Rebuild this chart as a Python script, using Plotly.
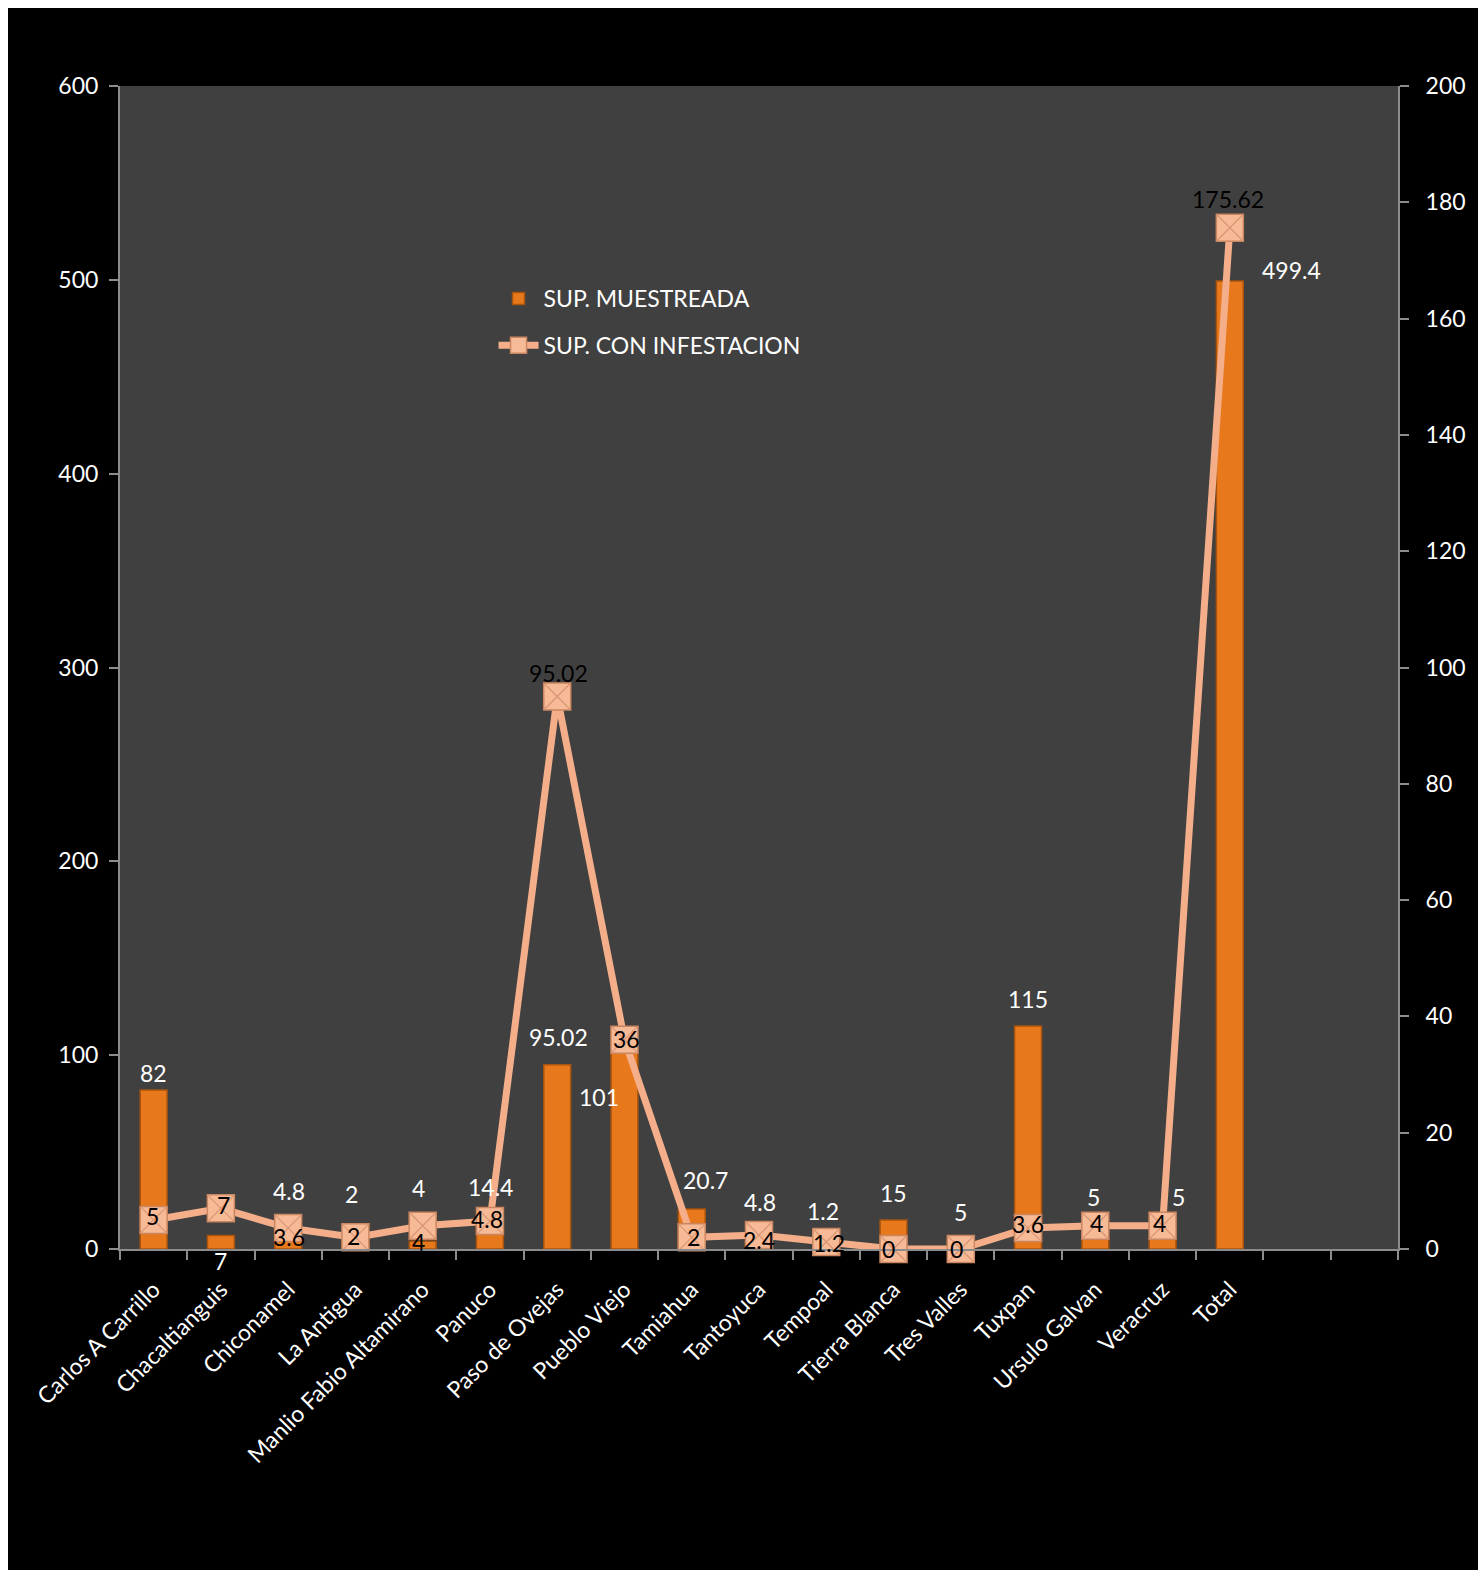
import plotly.graph_objects as go

# ---- data ----
categories = ["Carlos A Carrillo", "Chacaltianguis", "Chiconamel", "La Antigua",
              "Manlio Fabio Altamirano", "Panuco", "Paso de Ovejas", "Pueblo Viejo",
              "Tamiahua", "Tantoyuca", "Tempoal", "Tierra Blanca", "Tres Valles",
              "Tuxpan", "Ursulo Galvan", "Veracruz", "Total"]
sup_muestreada = [82, 7, 4.8, 2, 4, 14.4, 95.02, 101, 20.7, 4.8, 1.2, 15, 5, 115, 5, 5, 499.4]
sup_infestacion = [5, 7, 3.6, 2, 4, 4.8, 95.02, 36, 2, 2.4, 1.2, 0, 0, 3.6, 4, 4, 175.62]
empty_slots = [" ", "  "]  # two unused category slots at the right end
left_ticks = [0, 100, 200, 300, 400, 500, 600]
right_ticks = [0, 20, 40, 60, 80, 100, 120, 140, 160, 180, 200]

# ---- label placement (pixel offsets, style only) ----
bar_label_shift = [(0, 17), (0, -26), (1, 49), (-4, 51), (-4, 53), (1, 34), (1, 28), (-25, -44),
                   (14, 29), (1, 38), (-3, 36), (0, 27), (0, 27), (0, 27), (-2, 42), (16, 42), (62, 11)]
line_label_shift = [(-1, 4), (3, 3), (1, -9), (-2, 1), (-4, -16), (-3, 2), (1, 23), (2, 1),
                    (2, 0), (0, -5), (3, -1), (-5, 0), (-4, 0), (0, 4), (1, 3), (-3, 3), (-2, 29)]

x_all = categories + empty_slots
FONT = "Lato"
AXIS_GRAY = "#8C8C8C"
BAR_COLOR = "#E8781C"
LINE_COLOR = "#F4AF8A"
FS = 23

fig = go.Figure()
fig.add_trace(go.Bar(
    x=categories, y=sup_muestreada, name="SUP. MUESTREADA",
    marker=dict(color=BAR_COLOR, line=dict(color="#A8530E", width=1.5)),
    width=0.4, legendgroup="a", yaxis="y",
))
fig.add_trace(go.Scatter(
    x=categories, y=sup_infestacion, name="SUP. CON INFESTACION",
    mode="lines+markers", cliponaxis=False,
    line=dict(color=LINE_COLOR, width=7),
    marker=dict(symbol="square", size=27, color="#F7BA96", line=dict(color="#C98660", width=1.5)),
    legendgroup="b", yaxis="y2",
))
# bevel diagonals on the square markers
fig.add_trace(go.Scatter(
    x=categories, y=sup_infestacion, mode="markers", showlegend=False, hoverinfo="skip",
    cliponaxis=False,
    marker=dict(symbol="x-thin", size=26, color="#D99574", line=dict(color="#D99574", width=1.2)),
    yaxis="y2",
))

annotations = []
for c, v, (dx, dy) in zip(categories, sup_muestreada, bar_label_shift):
    annotations.append(dict(x=c, y=v, xref="x", yref="y", text=f"{v:g}", showarrow=False,
                            xshift=dx, yshift=dy, font=dict(family=FONT, size=FS, color="white")))
for c, v, (dx, dy) in zip(categories, sup_infestacion, line_label_shift):
    annotations.append(dict(x=c, y=v, xref="x", yref="y2", text=f"{v:g}", showarrow=False,
                            xshift=dx, yshift=dy, font=dict(family=FONT, size=FS, color="black")))

# the page keeps an 8px white margin at top/left; the figure fills the rest
W, H = 1470, 1562
L, R, T, B = 112, 75, 78, 321
pw, ph = W - L - R, H - T - B

def px_x(p):  # screen pixel -> paper coordinate
    return (p - 8 - L) / pw

def px_y(p):
    return (H - B - (p - 8)) / ph

fig.update_layout(
    width=W, height=H,
    margin=dict(l=L, r=R, t=T, b=B, pad=0),
    paper_bgcolor="black", plot_bgcolor="#404040",
    font=dict(family=FONT, size=FS, color="white"),
    showlegend=True,
    legend=dict(x=px_x(495), y=px_y(277), xanchor="left", yanchor="top",
                bgcolor="rgba(0,0,0,0)", font=dict(family=FONT, size=FS, color="white"),
                traceorder="grouped", tracegroupgap=14, itemwidth=40),
    xaxis=dict(type="category", categoryorder="array", categoryarray=x_all,
               range=[-0.5, len(x_all) - 0.5], tickson="boundaries",
               ticks="outside", ticklen=9, tickwidth=2, tickcolor=AXIS_GRAY,
               showline=True, linecolor=AXIS_GRAY, linewidth=2,
               tickangle=-45, tickfont=dict(family=FONT, size=FS, color="white"),
               ticklabelstandoff=16, showgrid=False, zeroline=False),
    yaxis=dict(range=[0, 600], tickvals=left_ticks, ticks="outside", ticklen=9, tickwidth=2,
               tickcolor=AXIS_GRAY, showline=True, linecolor=AXIS_GRAY, linewidth=2,
               showgrid=False, zeroline=False, tickfont=dict(family=FONT, size=FS, color="white"),
               ticklabelstandoff=6),
    yaxis2=dict(range=[0, 200], tickvals=right_ticks, overlaying="y", side="right",
                ticks="outside", ticklen=9, tickwidth=2, tickcolor=AXIS_GRAY,
                showline=True, linecolor=AXIS_GRAY, linewidth=2,
                showgrid=False, zeroline=False, tickfont=dict(family=FONT, size=FS, color="white"),
                ticklabelstandoff=12),
    annotations=annotations,
)

# add the two empty category slots to the axis via an invisible trace
fig.add_trace(go.Scatter(x=empty_slots, y=[None, None], showlegend=False, hoverinfo="skip",
                         mode="markers", marker=dict(opacity=0)))

fig.write_html(
    "out.html",
    post_script="document.body.style.margin='8px 0 0 8px';"
                "document.body.style.overflow='hidden';"
                "document.documentElement.style.overflow='hidden';",
)
